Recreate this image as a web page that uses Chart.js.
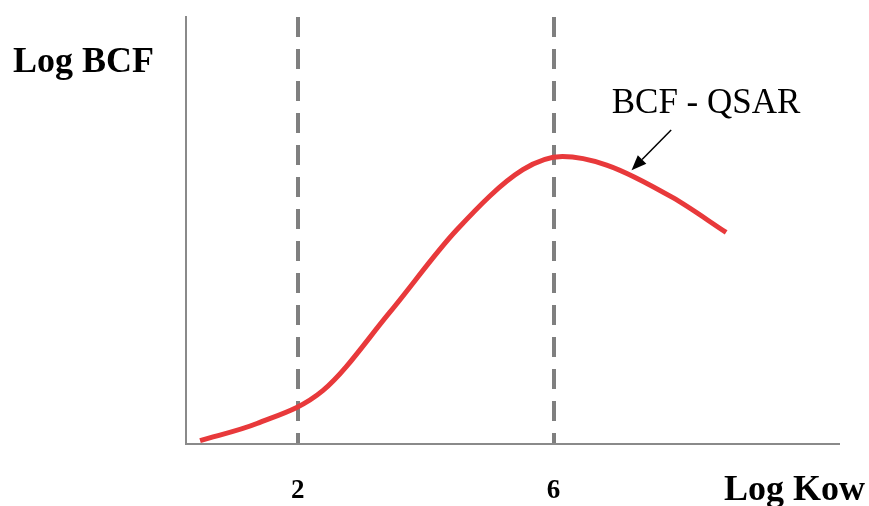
<!DOCTYPE html>
<html lang="en">
<head>
<meta charset="UTF-8" />
<title>Log BCF vs Log Kow</title>
<script src="https://cdn.jsdelivr.net/npm/chart.js"></script>
<style>
  html, body { margin: 0; padding: 0; background: #fff; }
  #wrap { width: 869px; height: 506px; }
</style>
</head>
<body>
<div id="wrap"><canvas id="chart" width="869" height="506"></canvas></div>
<script>
  // curve (x = Log Kow, y = Log BCF, arbitrary units)
  const logKow = [0.47, 1.36, 2.39, 3.44, 4.48, 5.52, 6.14, 6.83, 7.86, 8.70];
  const logBcf = [0.07, 0.47, 1.24, 3.08, 5.0, 6.42, 6.73, 6.53, 5.77, 4.95];
  const markerTicks = [2, 6];     // dashed reference lines + the only tick labels
  const xRange = [0.25, 10.45];
  const yRange = [0, 10];

  const yTitle = 'Log BCF';
  const xTitle = 'Log Kow';
  const curveLabel = 'BCF - QSAR';
  const labelAt = [6.91, 7.75];   // left / baseline of the label, in data units
  const arrowFrom = [7.84, 7.35];
  const arrowTo = [7.22, 6.41];

  const serif = '"Liberation Serif", "Times New Roman", serif';

  // titles, curve label and arrow
  const extras = {
    id: 'extras',
    afterDraw(chart) {
      const ctx = chart.ctx;
      const xs = chart.scales.x, ys = chart.scales.y;
      ctx.save();
      ctx.fillStyle = '#000';
      ctx.textBaseline = 'alphabetic';

      ctx.font = 'bold 36px ' + serif;
      ctx.textAlign = 'left';
      ctx.fillText(yTitle, 13, 72);
      ctx.textAlign = 'right';
      ctx.fillText(xTitle, 865, 500);

      ctx.font = '35px ' + serif;
      ctx.textAlign = 'left';
      ctx.fillText(curveLabel, xs.getPixelForValue(labelAt[0]), ys.getPixelForValue(labelAt[1]));

      // arrow
      const x1 = xs.getPixelForValue(arrowFrom[0]), y1 = ys.getPixelForValue(arrowFrom[1]);
      const x2 = xs.getPixelForValue(arrowTo[0]), y2 = ys.getPixelForValue(arrowTo[1]);
      const a = Math.atan2(y2 - y1, x2 - x1);
      const len = 15, half = 6;
      const bx = x2 - len * Math.cos(a), by = y2 - len * Math.sin(a);
      ctx.strokeStyle = '#000';
      ctx.lineWidth = 1.5;
      ctx.beginPath();
      ctx.moveTo(x1, y1);
      ctx.lineTo(bx, by);
      ctx.stroke();
      ctx.beginPath();
      ctx.moveTo(x2, y2);
      ctx.lineTo(bx + half * Math.sin(a), by - half * Math.cos(a));
      ctx.lineTo(bx - half * Math.sin(a), by + half * Math.cos(a));
      ctx.closePath();
      ctx.fill();
      ctx.restore();
    }
  };

  new Chart(document.getElementById('chart'), {
    type: 'line',
    data: {
      datasets: [{
        data: logKow.map((x, i) => ({ x: x, y: logBcf[i] })),
        borderColor: '#e8393b',
        borderWidth: 5,
        pointRadius: 0,
        fill: false,
        cubicInterpolationMode: 'monotone'
      }]
    },
    options: {
      responsive: false,
      animation: false,
      layout: { padding: { left: 178, top: 17, right: 31, bottom: -32 } },
      plugins: { legend: { display: false }, tooltip: { enabled: false } },
      scales: {
        x: {
          type: 'linear',
          min: xRange[0],
          max: xRange[1],
          z: 1,
          afterBuildTicks: (axis) => { axis.ticks = markerTicks.map(v => ({ value: v })); },
          grid: { color: '#7f7f7f', lineWidth: 4, drawTicks: false },
          border: { color: '#8a8a8a', width: 2, dash: [20, 12] },
          ticks: {
            color: '#000',
            padding: 31,
            maxRotation: 0,
            font: { family: serif, size: 27, weight: 'bold' }
          }
        },
        y: {
          type: 'linear',
          min: yRange[0],
          max: yRange[1],
          grid: { display: false },
          border: { color: '#8a8a8a', width: 2 },
          ticks: { display: false }
        }
      }
    },
    plugins: [extras]
  });
</script>
</body>
</html>
